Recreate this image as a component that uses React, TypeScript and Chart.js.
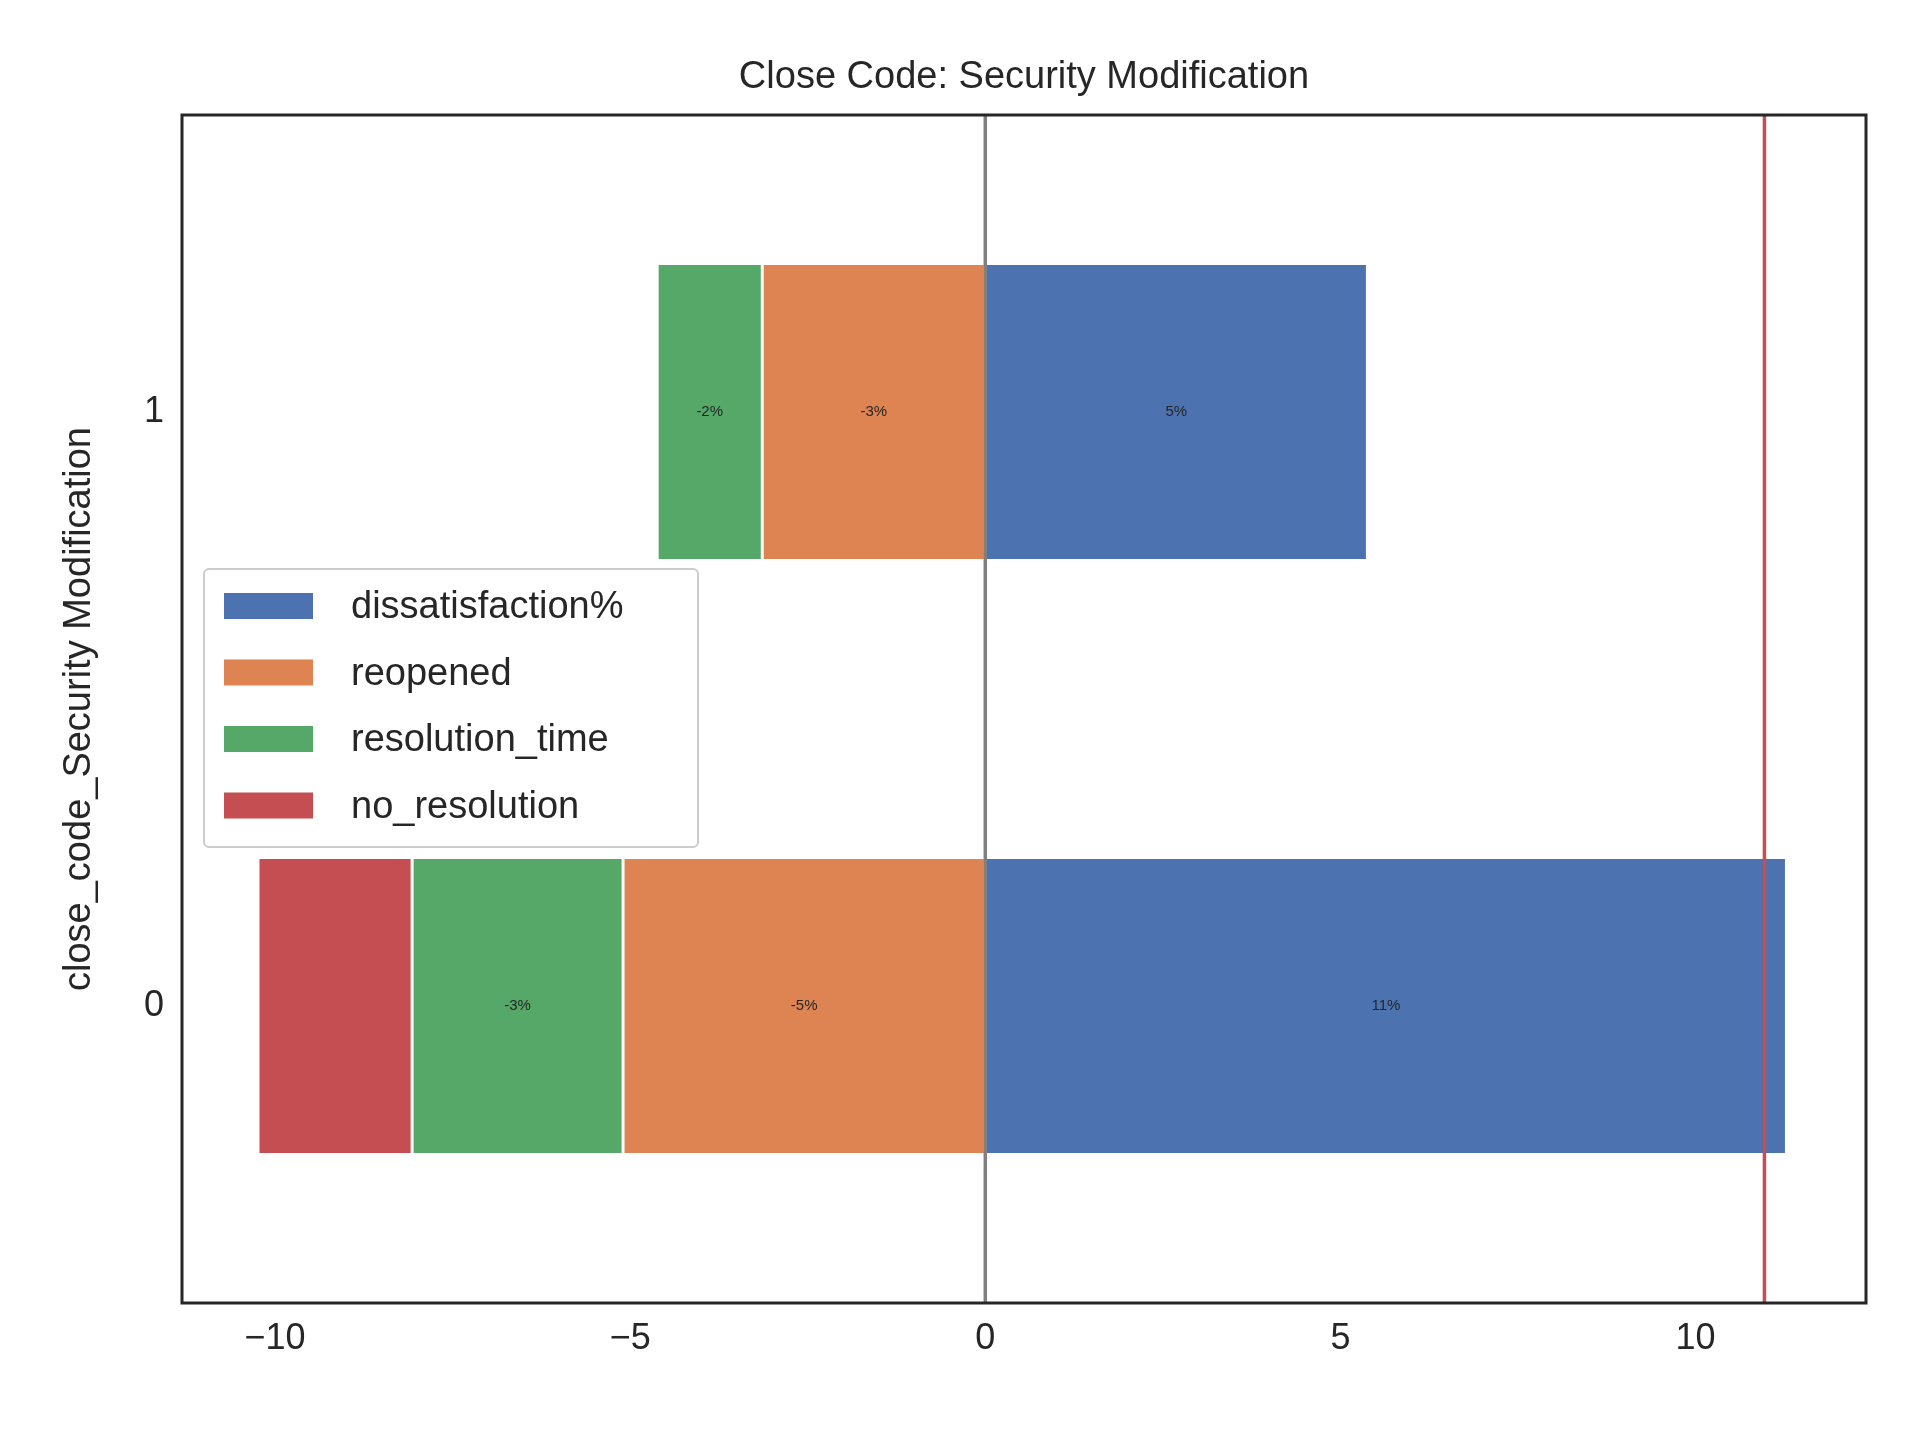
import React, { useEffect, useRef } from "react";
import { Chart, registerables } from "chart.js";

Chart.register(...registerables);

const categories = ["1", "0"];
const seriesNames = ["dissatisfaction%", "reopened", "resolution_time", "no_resolution"];
const dissatisfaction = [5.38, 11.28];
const reopened = [-3.14, -5.1];
const resolutionTime = [-1.48, -2.97];
const noResolution = [0, -2.17];
const barLabels = [
  ["5%", "11%"],
  ["-3%", "-5%"],
  ["-2%", "-3%"],
  [null, null],
];
const colors = ["#4c72b0", "#dd8452", "#55a868", "#c44e52"];
const refLine = 10.97;
const xTicks = [-10, -5, 0, 5, 10];

const FONT = "'Liberation Sans', Arial, sans-serif";

export default function App() {
  const canvasRef = useRef<HTMLCanvasElement | null>(null);

  useEffect(() => {
    document.body.style.margin = "0";
    if (!canvasRef.current) return;

    const overlay = {
      id: "overlay",
      afterDatasetsDraw(chart: any) {
        const { ctx, chartArea, scales } = chart;
        const x = scales.x;
        ctx.save();
        // segment labels
        ctx.fillStyle = "#262626";
        ctx.font = `15px ${FONT}`;
        ctx.textAlign = "center";
        ctx.textBaseline = "middle";
        chart.data.datasets.forEach((_: any, di: number) => {
          chart.getDatasetMeta(di).data.forEach((bar: any, i: number) => {
            const t = barLabels[di][i];
            if (!t) return;
            ctx.fillText(t, (bar.x + bar.base) / 2, bar.y);
          });
        });
        // vertical lines
        ctx.lineWidth = 3.5;
        ctx.strokeStyle = "#808080";
        ctx.beginPath();
        ctx.moveTo(x.getPixelForValue(0), chartArea.top);
        ctx.lineTo(x.getPixelForValue(0), chartArea.bottom);
        ctx.stroke();
        ctx.strokeStyle = "#c44e52";
        ctx.beginPath();
        ctx.moveTo(x.getPixelForValue(refLine), chartArea.top);
        ctx.lineTo(x.getPixelForValue(refLine), chartArea.bottom);
        ctx.stroke();
        // frame
        ctx.lineWidth = 3;
        ctx.strokeStyle = "#262626";
        ctx.strokeRect(chartArea.left, chartArea.top, chartArea.right - chartArea.left, chartArea.bottom - chartArea.top);
        // title
        ctx.fillStyle = "#262626";
        ctx.font = `38px ${FONT}`;
        ctx.textBaseline = "alphabetic";
        ctx.fillText("Close Code: Security Modification", (chartArea.left + chartArea.right) / 2, 88);
        // y title
        ctx.save();
        ctx.translate(90, (chartArea.top + chartArea.bottom) / 2);
        ctx.rotate(-Math.PI / 2);
        ctx.fillText("close_code_Security Modification", 0, 0);
        ctx.restore();
        // legend
        const lx = 204, ly = 569, lw = 494, lh = 278;
        ctx.fillStyle = "rgba(255,255,255,0.85)";
        ctx.strokeStyle = "#cccccc";
        ctx.lineWidth = 2;
        ctx.beginPath();
        ctx.roundRect(lx, ly, lw, lh, 5);
        ctx.fill();
        ctx.stroke();
        ctx.font = `38px ${FONT}`;
        ctx.textAlign = "left";
        ctx.textBaseline = "middle";
        seriesNames.forEach((n, i) => {
          const cy = 606 + i * 66.5;
          ctx.fillStyle = colors[i];
          ctx.fillRect(224, cy - 13, 89, 26);
          ctx.fillStyle = "#262626";
          ctx.fillText(n, 351, cy + 2);
        });
        ctx.restore();
      },
    };

    const data = [dissatisfaction, reopened, resolutionTime, noResolution];
    const chart = new Chart(canvasRef.current, {
      type: "bar",
      data: {
        labels: categories,
        datasets: seriesNames.map((n, i) => ({
          label: n,
          data: data[i],
          backgroundColor: colors[i],
          borderColor: "#ffffff",
          borderWidth: 1.5,
          borderSkipped: false,
          barPercentage: 0.5,
          categoryPercentage: 1,
        })),
      },
      options: {
        indexAxis: "y",
        animation: false,
        responsive: false,
        devicePixelRatio: 1,
        layout: { padding: { left: 0, top: 115, right: 54, bottom: 0 } },
        plugins: { legend: { display: false }, title: { display: false }, tooltip: { enabled: false } },
        scales: {
          x: {
            stacked: true,
            min: -11.31,
            max: 12.4,
            afterFit: (s: any) => { s.height = 137; },
            afterBuildTicks: (s: any) => { s.ticks = xTicks.map((v) => ({ value: v })); },
            ticks: {
              color: "#262626",
              font: { family: FONT, size: 36 },
              padding: 14,
              callback: (v: any) => (Number(v) < 0 ? "\u2212" + Math.abs(Number(v)) : String(v)),
            },
            grid: { display: false, drawTicks: false },
            border: { display: false },
          },
          y: {
            stacked: true,
            afterFit: (s: any) => { s.width = 182; },
            ticks: { color: "#262626", font: { family: FONT, size: 36 }, padding: 18 },
            grid: { display: false, drawTicks: false },
            border: { display: false },
          },
        },
      },
      plugins: [overlay],
    });
    return () => chart.destroy();
  }, []);

  return <canvas ref={canvasRef} width={1920} height={1440} style={{ display: "block", width: 1920, height: 1440, background: "#fff" }} />;
}
